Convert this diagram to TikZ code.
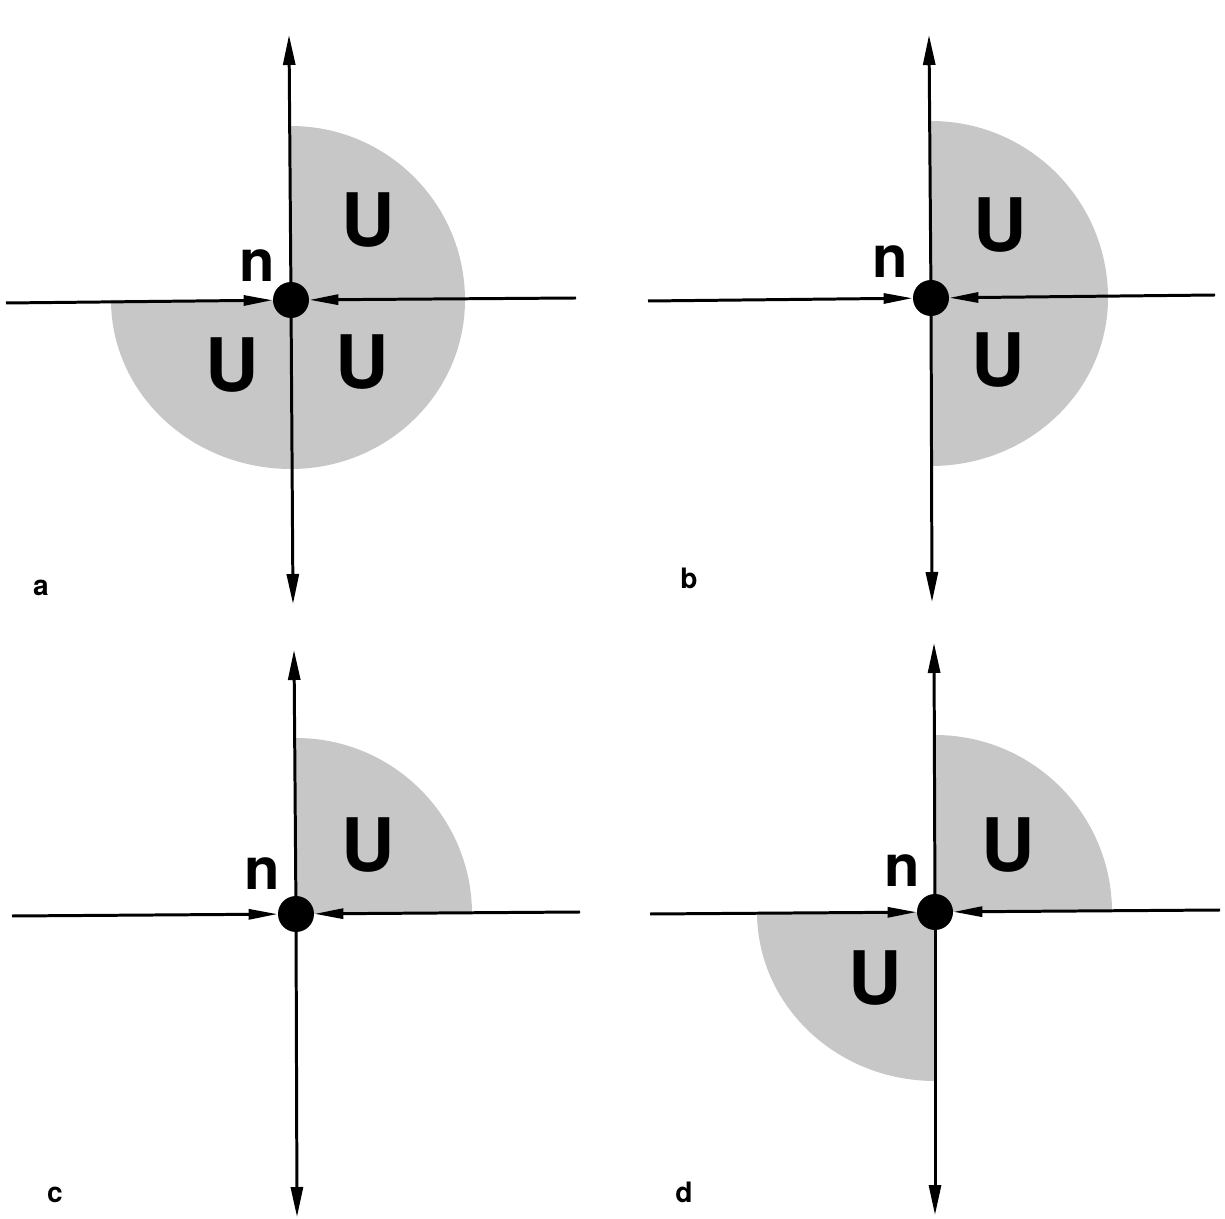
\documentclass[tikz,border=0pt]{standalone}
\usepackage{fontspec}
\setmainfont{TeX Gyre Heros}
\usetikzlibrary{arrows.meta}
\tikzset{
  % shaded sectors
  region/.style={fill=black!22},
  % the junction point
  junction/.style={circle, fill=black, inner sep=0pt, minimum size=0.72cm},
  % axes and inflowing lines
  axis/.style={line width=1.7pt, -{Triangle[length=0.6cm,width=0.24cm]}},
  inflow/.style={line width=1.7pt, -{Triangle[length=0.58cm,width=0.2cm]}},
  ulabel/.style={font=\fontsize{42}{42}\selectfont\bfseries, inner sep=0pt},
  nlabel/.style={font=\fontsize{33}{33}\selectfont\bfseries, inner sep=0pt},
  panel/.style={font=\fontsize{16}{16}\selectfont\bfseries, inner sep=0pt, anchor=base},
}

\begin{document}
\begin{tikzpicture}[x=0.02cm,y=0.02cm]
\useasboundingbox (0,0) rectangle (1225,-1219);

% =================== a ===================
\coordinate (aC) at (291,-300);
\fill[region] (aC) -- ++(0,174) arc[start angle=90,end angle=0,radius=174]
  arc[start angle=0,end angle=-90,x radius=174,y radius=169]
  arc[start angle=-90,end angle=-180,x radius=180,y radius=169] -- cycle;
\node[junction] (aN) at (aC) {};
\coordinate (aT) at (289,-35);
\coordinate (aB) at (293,-604);
\coordinate (aW) at (6,-303);
\coordinate (aE) at (576,-298);
\draw[axis] (aN.center) -- (aT);
\draw[axis] (aN.center) -- (aB);
\draw[inflow] (aW) -- (aN);
\draw[inflow] (aE) -- (aN);
\node[nlabel] (an) at (257,-266) {n};
\node[ulabel] (aU1) at (368,-220) {U};
\node[ulabel] (aU2) at (232,-365) {U};
\node[ulabel] (aU3) at (362,-362) {U};
\node[panel] (alab) at (41,-596) {a};

% =================== b ===================
\coordinate (bC) at (931,-298);
\fill[region] (bC) -- ++(0,177) arc[start angle=90,end angle=0,radius=177]
  arc[start angle=0,end angle=-90,x radius=177,y radius=168] -- cycle;
\node[junction] (bN) at (bC) {};
\coordinate (bT) at (929,-35);
\coordinate (bB) at (932,-602);
\coordinate (bW) at (648,-301);
\coordinate (bE) at (1215,-295);
\draw[axis] (bN.center) -- (bT);
\draw[axis] (bN.center) -- (bB);
\draw[inflow] (bW) -- (bN);
\draw[inflow] (bE) -- (bN);
\node[nlabel] (bn) at (890,-262) {n};
\node[ulabel] (bU1) at (1000,-225) {U};
\node[ulabel] (bU2) at (998,-360) {U};
\node[panel] (blab) at (689,-589) {b};

% =================== c ===================
\coordinate (cC) at (296,-914);
\fill[region] (cC) -- ++(0,176) arc[start angle=90,end angle=0,radius=176] -- cycle;
\node[junction] (cN) at (cC) {};
\coordinate (cT) at (294,-650);
\coordinate (cB) at (297,-1217);
\coordinate (cW) at (12,-916);
\coordinate (cE) at (580,-912);
\draw[axis] (cN.center) -- (cT);
\draw[axis] (cN.center) -- (cB);
\draw[inflow] (cW) -- (cN);
\draw[inflow] (cE) -- (cN);
\node[nlabel] (cn) at (262,-874) {n};
\node[ulabel] (cU1) at (368,-845) {U};
\node[panel] (clab) at (55,-1202) {c};

% =================== d ===================
\coordinate (dC) at (935,-912);
\fill[region] (dC) -- ++(0,177) arc[start angle=90,end angle=0,radius=177] -- cycle;
\fill[region] (dC) -- ++(-178,0) arc[start angle=180,end angle=270,x radius=178,y radius=169] -- cycle;
\node[junction] (dN) at (dC) {};
\coordinate (dT) at (934,-643);
\coordinate (dB) at (935,-1215);
\coordinate (dW) at (650,-914);
\coordinate (dE) at (1220,-910);
\draw[axis] (dN.center) -- (dT);
\draw[axis] (dN.center) -- (dB);
\draw[inflow] (dW) -- (dN);
\draw[inflow] (dE) -- (dN);
\node[nlabel] (dn) at (902,-871) {n};
\node[ulabel] (dU1) at (1008,-845) {U};
\node[ulabel] (dU2) at (875,-978) {U};
\node[panel] (dlab) at (684,-1202) {d};

\end{tikzpicture}
\end{document}
